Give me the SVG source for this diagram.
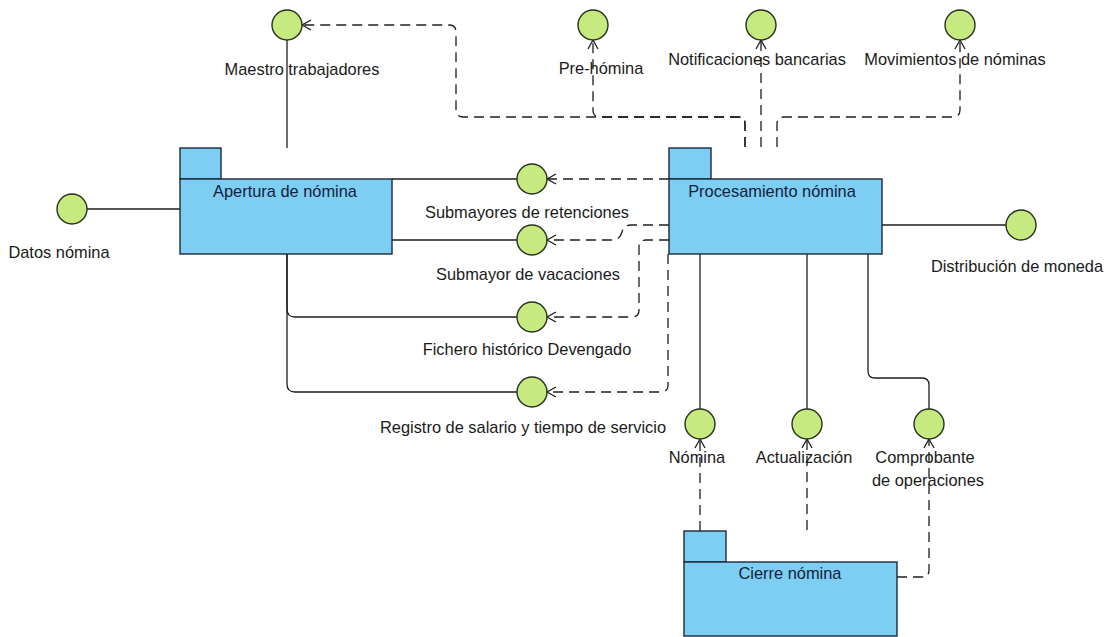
<svg xmlns="http://www.w3.org/2000/svg" width="1104" height="637" viewBox="0 0 1104 637">
<style>
.pkg{fill:#7ecdf2;stroke:#1c2a3a;stroke-width:1.4}
.ifc{fill:#c6ea80;stroke:#26301c;stroke-width:1.4}
.ln{fill:none;stroke:#1e1e1e;stroke-width:1.3}
.dep{fill:none;stroke:#1e1e1e;stroke-width:1.3;stroke-dasharray:10 6}
.lbl{font-family:"Liberation Sans",Arial,sans-serif;font-size:16.4px;fill:#1a1a1a;text-anchor:middle}
.plbl{font-family:"Liberation Sans",Arial,sans-serif;font-size:16.4px;fill:#10223c;text-anchor:middle}
</style>
<defs>
<marker id="open" markerUnits="userSpaceOnUse" markerWidth="20" markerHeight="20" refX="0" refY="0" orient="auto" overflow="visible" viewBox="-10 -10 20 20">
<path d="M-9,-5 L0,0 L-9,5" fill="none" stroke="#1e1e1e" stroke-width="1.3" stroke-dasharray="none"/>
</marker>
</defs>
<rect width="1104" height="637" fill="#ffffff"/>
<g id="connectors">
<path class="ln" d="M287,40 V148"/>
<path class="ln" d="M87,209 H180"/>
<path class="ln" d="M392,179 H517"/>
<path class="ln" d="M392,240 H517"/>
<path class="ln" d="M287,254 V309 Q287,317 295,317 H517"/>
<path class="ln" d="M287,254 V384 Q287,392 295,392 H517"/>
<path class="ln" d="M882,225 H1006"/>
<path class="ln" d="M700,254 V409"/>
<path class="ln" d="M807,254 V409"/>
<path class="ln" d="M868,254 V371 Q868,378 875,378 H922 Q929,378 929,385 V409"/>
<path class="dep" marker-end="url(#open)" d="M745,147 V124 Q745,117 738,117 H463 Q456,117 456,110 V32 Q456,25 449,25 H302"/>
<path class="dep" marker-end="url(#open)" d="M745,147 V124 Q745,117 738,117 H600 Q593,117 593,110 V40"/>
<path class="dep" marker-end="url(#open)" d="M761,147 V40"/>
<path class="dep" marker-end="url(#open)" d="M777,147 V124 Q777,117 784,117 H953 Q960,117 960,110 V40"/>
<path class="dep" marker-end="url(#open)" d="M669,179 H547"/>
<path class="dep" marker-end="url(#open)" d="M669,225 H631 Q624,225 622,232 Q620,240 612,240 H547"/>
<path class="dep" marker-end="url(#open)" d="M669,240 H646 Q639,240 639,247 V310 Q639,317 632,317 H547"/>
<path class="dep" marker-end="url(#open)" d="M668,254 V385 Q668,392 661,392 H547"/>
<path class="dep" marker-end="url(#open)" d="M700,531 V439"/>
<path class="dep" marker-end="url(#open)" d="M807,530 V439"/>
<path class="dep" marker-end="url(#open)" d="M897,577 H922 Q929,577 929,570 V439"/>
</g>
<g id="apertura">
<rect class="pkg" x="180" y="148" width="41" height="31"/>
<rect class="pkg" x="180" y="179" width="212" height="75"/>
<text class="plbl" x="285" y="197">Apertura de nómina</text>
</g>
<g id="procesamiento">
<rect class="pkg" x="669" y="148" width="42" height="31"/>
<rect class="pkg" x="669" y="179" width="213" height="75"/>
<text class="plbl" x="772" y="197">Procesamiento nómina</text>
</g>
<g id="cierre">
<rect class="pkg" x="684" y="531" width="42" height="31"/>
<rect class="pkg" x="684" y="562" width="213" height="74"/>
<text class="plbl" x="790" y="579">Cierre nómina</text>
</g>
<g id="maestro"><circle class="ifc" cx="287" cy="25" r="15"/><text class="lbl" x="302" y="75">Maestro trabajadores</text></g>
<g id="prenomina"><circle class="ifc" cx="593" cy="25" r="15"/><text class="lbl" x="601" y="74">Pre-hómina</text></g>
<g id="notificaciones"><circle class="ifc" cx="761" cy="25" r="15"/><text class="lbl" x="757" y="65">Notificaciones bancarias</text></g>
<g id="movimientos"><circle class="ifc" cx="960" cy="25" r="15"/><text class="lbl" x="955" y="65">Movimientos de nóminas</text></g>
<g id="datos"><circle class="ifc" cx="72" cy="209" r="15"/><text class="lbl" x="59" y="258">Datos nómina</text></g>
<g id="submayores"><circle class="ifc" cx="532" cy="179" r="15"/><text class="lbl" x="527" y="218">Submayores de retenciones</text></g>
<g id="vacaciones"><circle class="ifc" cx="532" cy="240" r="15"/><text class="lbl" x="528" y="280">Submayor de vacaciones</text></g>
<g id="fichero"><circle class="ifc" cx="532" cy="317" r="15"/><text class="lbl" x="527" y="355">Fichero histórico Devengado</text></g>
<g id="registro"><circle class="ifc" cx="532" cy="392" r="15"/><text class="lbl" x="523" y="433">Registro de salario y tiempo de servicio</text></g>
<g id="distribucion"><circle class="ifc" cx="1021" cy="225" r="15"/><text class="lbl" x="1017" y="272">Distribución de moneda</text></g>
<g id="nomina"><circle class="ifc" cx="700" cy="424" r="15"/><text class="lbl" x="697" y="463">Nómina</text></g>
<g id="actualizacion"><circle class="ifc" cx="807" cy="424" r="15"/><text class="lbl" x="804" y="463">Actualización</text></g>
<g id="comprobante"><circle class="ifc" cx="929" cy="424" r="15"/><text class="lbl" y="463"><tspan x="925">Comprobante</tspan><tspan x="928" y="486">de operaciones</tspan></text></g>
</svg>
